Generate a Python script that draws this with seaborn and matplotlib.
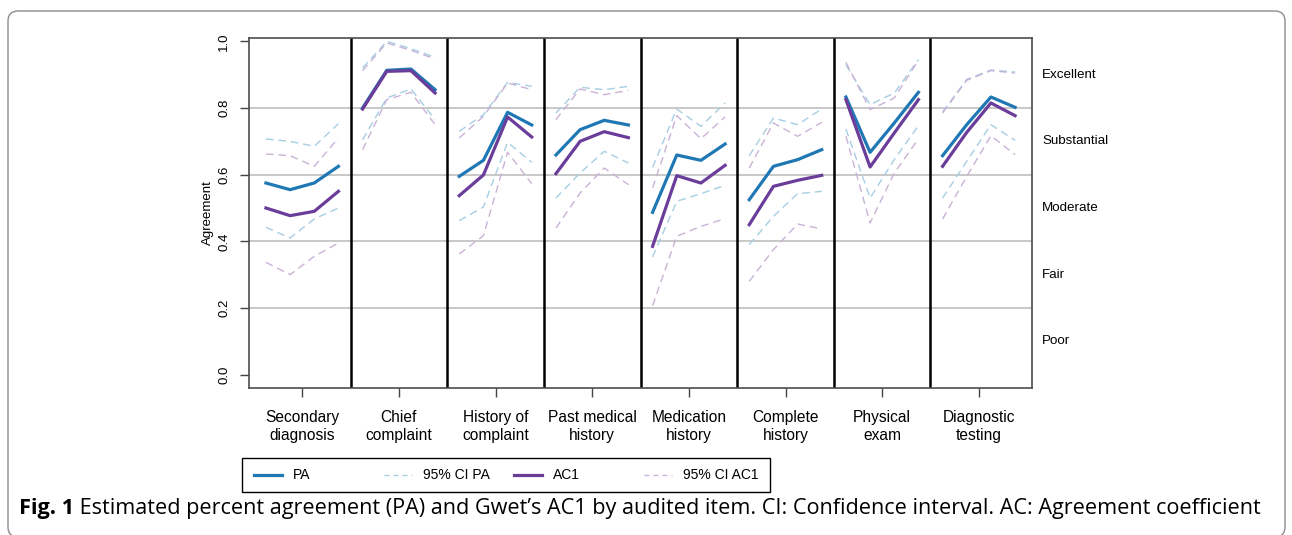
import numpy as np
import pandas as pd
import seaborn as sns
import matplotlib.pyplot as plt
from matplotlib.lines import Line2D
from matplotlib.patches import FancyBboxPatch, Rectangle
from matplotlib.transforms import IdentityTransform, blended_transform_factory

plt.rcParams['font.family'] = ['Liberation Sans', 'DejaVu Sans']

# audited items
items = ['Secondary\ndiagnosis', 'Chief\ncomplaint', 'History of\ncomplaint',
         'Past medical\nhistory', 'Medication\nhistory', 'Complete\nhistory',
         'Physical\nexam', 'Diagnostic\ntesting']

# four estimates per item
pa = [[0.575, 0.555, 0.575, 0.625], [0.800, 0.913, 0.917, 0.855],
      [0.595, 0.643, 0.787, 0.749], [0.659, 0.735, 0.763, 0.749],
      [0.487, 0.659, 0.643, 0.692], [0.525, 0.625, 0.645, 0.675],
      [0.833, 0.667, 0.755, 0.847], [0.657, 0.750, 0.833, 0.802]]
ac1 = [[0.500, 0.477, 0.490, 0.550], [0.797, 0.910, 0.912, 0.845],
       [0.537, 0.599, 0.773, 0.713], [0.603, 0.700, 0.729, 0.711],
       [0.385, 0.597, 0.575, 0.628], [0.450, 0.565, 0.583, 0.598],
       [0.825, 0.623, 0.725, 0.825], [0.625, 0.727, 0.815, 0.777]]
pa_lo = [[0.442, 0.410, 0.467, 0.500], [0.705, 0.830, 0.857, 0.765],
         [0.462, 0.503, 0.697, 0.637], [0.530, 0.605, 0.670, 0.635],
         [0.353, 0.520, 0.543, 0.568], [0.390, 0.475, 0.543, 0.550],
         [0.737, 0.530, 0.645, 0.747], [0.530, 0.640, 0.750, 0.703]]
pa_hi = [[0.707, 0.700, 0.685, 0.753], [0.920, 1.000, 0.978, 0.952],
         [0.730, 0.780, 0.877, 0.865], [0.785, 0.862, 0.855, 0.865],
         [0.622, 0.797, 0.745, 0.815], [0.657, 0.770, 0.750, 0.797],
         [0.930, 0.810, 0.845, 0.945], [0.788, 0.886, 0.914, 0.908]]
ac1_lo = [[0.337, 0.300, 0.355, 0.395], [0.675, 0.825, 0.847, 0.750],
          [0.362, 0.417, 0.667, 0.573], [0.440, 0.545, 0.620, 0.570],
          [0.207, 0.415, 0.445, 0.468], [0.280, 0.375, 0.452, 0.437],
          [0.715, 0.455, 0.605, 0.707], [0.467, 0.595, 0.717, 0.660]]
ac1_hi = [[0.662, 0.657, 0.625, 0.710], [0.912, 0.995, 0.973, 0.947],
          [0.710, 0.775, 0.875, 0.855], [0.765, 0.857, 0.840, 0.853],
          [0.560, 0.777, 0.708, 0.773], [0.620, 0.755, 0.715, 0.757],
          [0.937, 0.795, 0.830, 0.943], [0.785, 0.883, 0.912, 0.905]]

levels = ['Poor', 'Fair', 'Moderate', 'Substantial', 'Excellent']
level_mid = [0.1, 0.3, 0.5, 0.7, 0.9]

# position of the four estimates inside each item's panel
offsets = [-0.375, -0.125, 0.125, 0.375]

series = [('95% CI PA', 'lo', pa_lo), ('95% CI PA', 'hi', pa_hi),
          ('95% CI AC1', 'lo', ac1_lo), ('95% CI AC1', 'hi', ac1_hi),
          ('PA', '', pa), ('AC1', '', ac1)]
rows = []
for name, bound, arr in series:
    for i, vals in enumerate(arr):
        for j, v in enumerate(vals):
            rows.append({'series': name, 'unit': f'{name}{bound}{i}',
                         'x': i + 1 + offsets[j], 'value': v})
df = pd.DataFrame(rows)

pal = sns.color_palette('Paired')
order = ['95% CI PA', '95% CI AC1', 'PA', 'AC1']
colors = {'PA': pal[1], '95% CI PA': pal[0], 'AC1': pal[9], '95% CI AC1': pal[8]}
dash_map = {'PA': '', 'AC1': '', '95% CI PA': (5.5, 3.5), '95% CI AC1': (5.5, 3.5)}
size_map = {'PA': 2.3, 'AC1': 2.3, '95% CI PA': 1.0, '95% CI AC1': 1.0}

W, H = 1292, 535
fig = plt.figure(figsize=(W / 100, H / 100), dpi=100)
ax = fig.add_axes([249 / W, 1 - 388 / H, 783 / W, 350 / H])

for v in [0.2, 0.4, 0.6, 0.8]:
    ax.axhline(v, color='#c4c4c4', lw=1.3, zorder=0)
for b in np.arange(1.5, 8, 1):
    ax.axvline(b, color='black', lw=1.8, zorder=1)

sns.lineplot(data=df, x='x', y='value', hue='series', hue_order=order,
             palette=colors, style='series', style_order=order, dashes=dash_map,
             size='series', size_order=order, sizes=size_map, units='unit',
             estimator=None, legend=False, ax=ax, zorder=2)

ax.set_xlim(0.45, 8.55)
ax.set_ylim(-0.04, 1.01)
ax.set_xlabel('')
ax.set_ylabel('Agreement', fontsize=9.5, labelpad=3)

ax.set_xticks(range(1, 9))
ax.set_xticklabels(items, fontsize=11.2, linespacing=1.25)
ax.set_yticks([0, 0.2, 0.4, 0.6, 0.8, 1.0])
ax.set_yticklabels(['0.0', '0.2', '0.4', '0.6', '0.8', '1.0'], fontsize=9.5)
ax.tick_params(axis='x', length=6.5, width=1, color='#444444', pad=9.5)
ax.tick_params(axis='y', length=6.5, width=1, color='#444444', pad=7,
               labelrotation=90)
for lab in ax.get_yticklabels():
    lab.set_va('center')

for s in ax.spines.values():
    s.set_color('#4d4d4d')
    s.set_linewidth(1.2)

trans = blended_transform_factory(ax.transAxes, ax.transData)
for v, lab in zip(level_mid, levels):
    ax.text(1.013, v, lab, transform=trans, ha='left', va='center', fontsize=9.6)

# R-style horizontal legend: equal-width columns inside a square box
leg_names = ['PA', '95% CI PA', 'AC1', '95% CI AC1']
leg_box = Rectangle((242, H - 492), 528, 34, transform=IdentityTransform(),
                    fill=False, edgecolor='black', lw=1.0)
fig.add_artist(leg_box)
for k, n in enumerate(leg_names):
    x0 = 254 + k * 130
    yc = H - 475
    dash = (3.5, 3.0) if dash_map[n] else (None, None)
    fig.add_artist(Line2D([x0, x0 + 28], [yc, yc], transform=IdentityTransform(),
                          color=colors[n], lw=size_map[n], dashes=dash))
    fig.text((x0 + 39) / W, yc / H, n, fontsize=10, va='center', ha='left')

frame = FancyBboxPatch((8, -2), 1277, 526,
                       boxstyle='round,pad=0,rounding_size=10',
                       transform=IdentityTransform(), fill=False,
                       edgecolor='#8c8c8c', lw=1)
fig.add_artist(frame)

t1 = fig.text(19 / W, 21 / H, 'Fig. 1', family='Open Sans', fontweight='bold',
              fontsize=15.6, va='baseline')
ax.annotate(' Estimated percent agreement (PA) and Gwet\u2019s AC1 by audited item. '
            'CI: Confidence interval. AC: Agreement coefficient',
            xy=(1, 0), xycoords=t1, va='bottom', ha='left',
            family='Open Sans', fontsize=15.6)

fig.savefig('out.png', dpi=100)
